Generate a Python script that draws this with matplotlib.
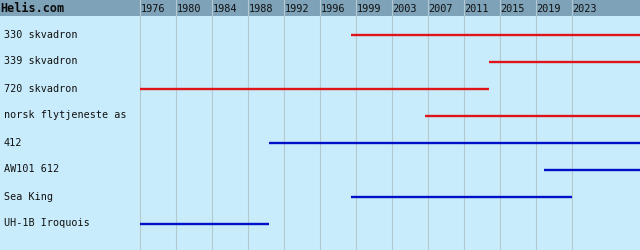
import matplotlib
matplotlib.use("Agg")
import matplotlib.pyplot as plt
import matplotlib.transforms as mtransforms
import numpy as np

# rows of the timeline (operators first, then types)
units = ['330 skvadron', '339 skvadron', '720 skvadron', 'norsk flytjeneste as',
         '412', 'AW101 612', 'Sea King', 'UH-1B Iroquois']
start_years = [1999, 2014, 1976, 2007, 1990, 2020, 1999, 1976]
end_years = [None, None, 2014, None, None, None, 2023, 1990]  # None = still in service
kinds = ['operator', 'operator', 'operator', 'operator', 'type', 'type', 'type', 'type']

tick_labels = ['1976', '1980', '1984', '1988', '1992', '1996', '1999',
               '2003', '2007', '2011', '2015', '2019', '2023']

# scale of the original: 9.19 px per year, 1976 at x=140, 36 px between ticks
W, H = 640, 250
px_per_year = 432 / 47
x0 = 1976 - 140 / px_per_year
x1 = x0 + W / px_per_year
tick_pos = 1976 + np.arange(len(tick_labels)) * 36 / px_per_year

row_px = 27
top = -34.5 / row_px
bottom = top + H / row_px
header_bottom = top + 16 / row_px

colors = {'operator': '#e01418', 'type': '#0010c8'}
bg = '#c8ecfb'
header = '#7ea2b8'
grid = '#b4c8d0'

fig = plt.figure(figsize=(W / 100, H / 100), dpi=100)
ax = fig.add_axes([0, 0, 1, 1])
ax.set_facecolor(bg)
ax.set_xlim(x0, x1)
ax.set_ylim(bottom, top)
ax.axis('off')
ax.add_patch(plt.Rectangle((x0, top), x1 - x0, header_bottom - top,
                           facecolor=header, edgecolor='none', zorder=0))
fig.patch.set_facecolor(bg)

for t in tick_pos:
    ax.axvline(t, color=grid, lw=0.8, zorder=1)

mono = 'DejaVu Sans Mono'
for t, lab in zip(tick_pos, tick_labels):
    ax.text(t + 0.05, (top + header_bottom) / 2 + 0.03, lab, fontsize=7.4,
            family=mono, va='center', ha='left', color='#111111', zorder=3)

ax.text(x0, (top + header_bottom) / 2, 'Helis.com', fontsize=8.5, family=mono,
        fontweight='bold', va='center', ha='left', color='#0a0a0a', zorder=3)

trans = mtransforms.blended_transform_factory(ax.transAxes, ax.transData)
for i, (name, s, e, k) in enumerate(zip(units, start_years, end_years, kinds)):
    ax.text(4 / W, i, name, transform=trans, fontsize=7.3, family=mono,
            va='center', ha='left', color='#111111', zorder=3)
    e = x1 if e is None else e
    ax.hlines(i, s, e, color=colors[k], lw=1.7, capstyle='butt', zorder=2)

fig.savefig('out.png', dpi=100, facecolor=bg)
